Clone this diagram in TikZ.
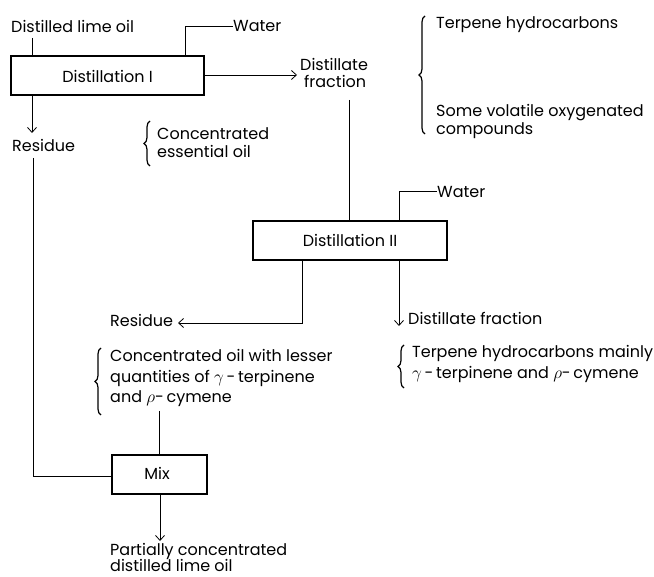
\documentclass[tikz,border=0pt]{standalone}
\usepackage{fontspec}
\setmainfont{Poppins}
\usetikzlibrary{arrows.meta,decorations.pathreplacing}
\begin{document}
\begin{tikzpicture}[x=1pt,y=-1pt,
  every node/.style={font=\fontsize{16}{19}\selectfont, inner sep=0pt},
  txt/.style={anchor=base west},
  unit/.style={draw, line width=1.2pt, minimum height=39pt},
  flow/.style={line width=0.8pt},
  arr/.style={flow, -{Straight Barb[length=5pt,width=9pt]}},
  brc/.style={line width=1.2pt, decorate, decoration={brace, amplitude=6pt}}]
\useasboundingbox (0,0) rectangle (654,577);
% units
\node[unit, minimum width=193pt] (d1) at (107.5,75.5) {};
\node[anchor=base] (d1t) at (107.5,83) {Distillation I};
\node[unit, minimum width=194pt] (d2) at (350,240.5) {};
\node[anchor=base] (d2t) at (350,247) {Distillation II};
\node[unit, minimum width=95pt] (mix) at (159.5,474.5) {};
\node[anchor=base] (mixt) at (157,480) {Mix};
% texts
\node[txt] (dlo) at (11,33) {Distilled lime oil};
\node[txt] (w1) at (233,32) {Water};
\node[txt] (df1a) at (300,71) {Distillate};
\node[txt] (df1b) at (304,88) {fraction};
\node[txt] (res1) at (12,152) {Residue};
\node[txt] (ceo1) at (157,140) {Concentrated};
\node[txt] (ceo2) at (157,158) {essential oil};
\node[txt] (th1) at (436,29) {Terpene hydrocarbons};
\node[txt] (sv1) at (436,117) {Some volatile oxygenated};
\node[txt] (sv2) at (436,135) {compounds};
\node[txt] (w2) at (437,198) {Water};
\node[txt] (res2) at (110,327) {Residue};
\node[txt] (df2) at (408,325) {Distillate fraction};
\node[txt] (th2a) at (412,358) {Terpene hydrocarbons mainly};
\node[txt] (th2b) at (412,379) {$\gamma$\,-\,terpinene and $\rho$-\,cymene};
\node[txt] (co1) at (110,362) {Concentrated oil with lesser};
\node[txt] (co2) at (110,383) {quantities of $\gamma$\,-\,terpinene};
\node[txt] (co3) at (110,403) {and $\rho$-\,cymene};
\node[txt] (pc1) at (110,555) {Partially concentrated};
\node[txt] (pc2) at (110,571) {distilled lime oil};
% braces
\draw[brc] (150,166) -- (150,121);
\draw[brc] (425,134) -- (425,16);
\draw[brc] (101,415) -- (101,348);
\draw[brc] (404,388) -- (404,345);
% connectors
\coordinate (dloin) at (32,38);
\draw[flow] (dloin) -- (dloin |- d1.north);
\coordinate (w1c) at (185,26);
\draw[flow] (w1.west |- w1c) -- (w1c) -- (w1c |- d1.north);
\draw[arr] (d1.east |- 0,75) -- (297,75) coordinate (df1tip);
\coordinate (res1tip) at (32,133);
\draw[arr] (res1tip |- d1.south) -- (res1tip);
\coordinate (res1out) at (33,158);
\coordinate (mixin) at (33,476);
\draw[flow] (res1out) -- (mixin) -- (mixin -| mix.west);
\coordinate (df1out) at (349,100);
\draw[flow] (df1out) -- (df1out |- d2.north);
\coordinate (w2c) at (399,191);
\draw[flow] (w2.west |- w2c) -- (w2c) -- (w2c |- d2.north);
\coordinate (r2c) at (302,323);
\draw[arr] (r2c |- d2.south) -- (r2c) -- (178,323);
\coordinate (df2tip) at (399,326);
\draw[arr] (df2tip |- d2.south) -- (df2tip);
\coordinate (coout) at (159,411);
\draw[flow] (coout) -- (coout |- mix.north);
\coordinate (pctip) at (160,541);
\draw[arr] (pctip |- mix.south) -- (pctip);
\end{tikzpicture}
\end{document}
